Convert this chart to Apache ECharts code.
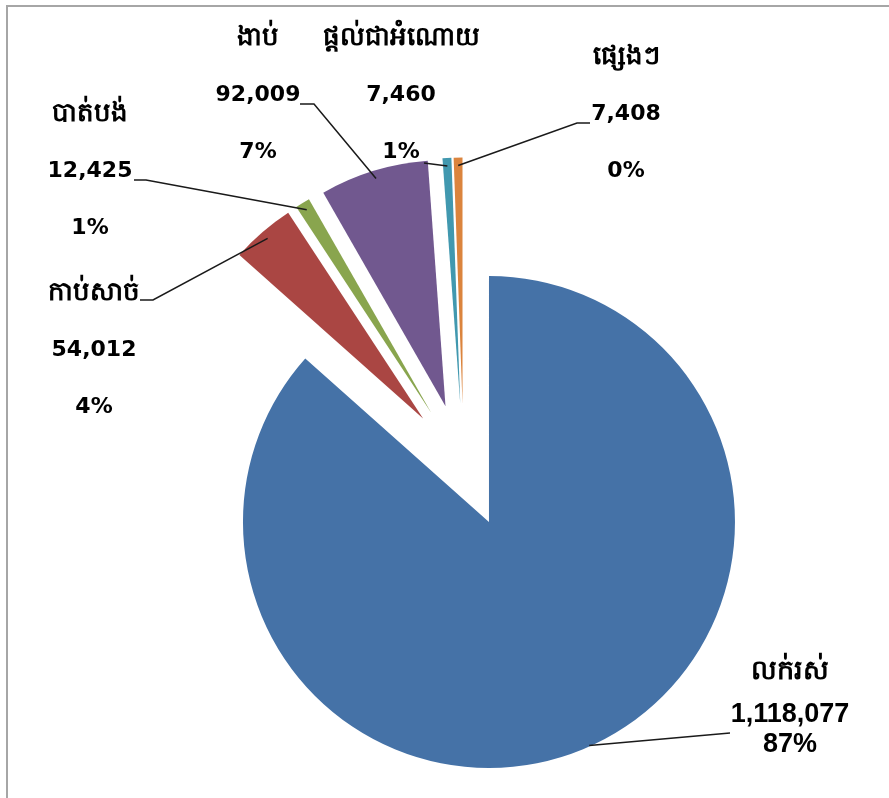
<!DOCTYPE html>
<html><head><meta charset="utf-8">
<script src="https://cdn.jsdelivr.net/npm/echarts@6/dist/echarts.min.js"></script>
<style>html,body{margin:0;padding:0;background:#fff}#c{width:889px;height:798px}</style>
</head><body><div id="c"></div>
<script>
const categories = ['លក់រស់', 'កាប់សាច់', 'បាត់បង់', 'ងាប់', 'ផ្តល់ជាអំណោយ', 'ផ្សេងៗ'];
const values = [1118077, 54012, 12425, 92009, 7460, 7408];
const colors = ['#4572A7', '#AA4643', '#89A54E', '#71588F', '#4198AF', '#DB843D'];

// layout only: label block centres, label-side ends of the leader lines, and anchor inset
const labelPos = [[790, 702], [94, 350], [90, 171], [258, 95], [401, 95], [626, 114]];
const leaderEnds = [
  [[730, 733]],
  [[153, 300], [140, 300]],
  [[146, 180], [134, 180]],
  [[314, 104], [300, 104]],
  [[424, 163]],
  [[577, 123], [590, 123]]
];
const anchorInset = [1, 8, 8, 8, 8, 8];
const CENTER = [463.6, 465.5], RADIUS = 246, OFFSET = 62;

const chart = echarts.init(document.getElementById('c'), null, {renderer: 'canvas'});
const txt = {fontFamily: 'DejaVu Sans, Noto Sans', fontWeight: 'bold', fontSize: 22, lineHeight: 57, color: '#000'};
const nameTxt = Object.assign({}, txt, {fontSize: 26});
const big = {fontFamily: 'Liberation Sans, Arial', fontWeight: 'bold', fontSize: 27, lineHeight: 30, color: '#000'};

const pieData = categories.map((c, i) => ({name: c, value: values[i]}));

chart.setOption({
  animation: false,
  backgroundColor: '#fff',
  series: [{
    type: 'pie',
    center: CENTER,
    radius: [0, RADIUS],
    startAngle: 90,
    clockwise: true,
    percentPrecision: 0,
    selectedMode: 'multiple',
    selectedOffset: OFFSET,
    emphasis: {disabled: true},
    label: {show: false},
    labelLine: {show: false},
    data: pieData.map((d, i) => ({
      name: d.name, value: d.value, selected: true,
      itemStyle: {color: colors[i]},
      select: {itemStyle: {color: colors[i], borderWidth: 0}}
    }))
  }, {
    type: 'pie',
    center: CENTER,
    radius: [0, RADIUS],
    startAngle: 90,
    clockwise: true,
    percentPrecision: 0,
    silent: true,
    z: 5,
    emphasis: {disabled: true},
    itemStyle: {color: 'rgba(0,0,0,0)'},
    data: pieData,
    labelLine: {show: false},
    label: {
      show: true,
      position: 'outside',
      formatter: function (p) {
        const k = p.dataIndex === 0 ? ['N', 'V', 'P'] : ['n', 'v', 'p'];
        return '{' + k[0] + '|' + p.name + '}\n{' + k[1] + '|' + echarts.format.addCommas(p.value) + '}\n{' + k[2] + '|' + p.percent + '%}';
      },
      rich: {
        n: nameTxt, v: txt, p: txt,
        N: Object.assign({}, nameTxt, {fontSize: 27, lineHeight: 56}),
        V: big, P: big
      }
    },
    labelLayout: function (params) {
      const pos = labelPos[params.dataIndex];
      return {x: pos[0], y: pos[1], align: 'center', verticalAlign: 'middle'};
    }
  }]
});

// leader lines anchored on the exploded slices computed by the library layout
const data = chart.getModel().getSeriesByIndex(0).getData();
const graphics = [{
  type: 'rect', shape: {x: 7, y: 6, width: 1000, height: 1000},
  style: {fill: 'none', stroke: '#a6a6a6', lineWidth: 2}, silent: true, z: 0
}];
for (let i = 0; i < values.length; i++) {
  const l = data.getItemLayout(i);
  const mid = (l.startAngle + l.endAngle) / 2;
  const rr = OFFSET + l.r - anchorInset[i];
  const anchor = [l.cx + Math.cos(mid) * rr, l.cy + Math.sin(mid) * rr];
  graphics.push({
    type: 'polyline', silent: true, z: 10,
    shape: {points: [anchor].concat(leaderEnds[i])},
    style: {stroke: '#1a1a1a', lineWidth: 1.5, fill: null}
  });
}
chart.setOption({graphic: graphics});
</script></body></html>
